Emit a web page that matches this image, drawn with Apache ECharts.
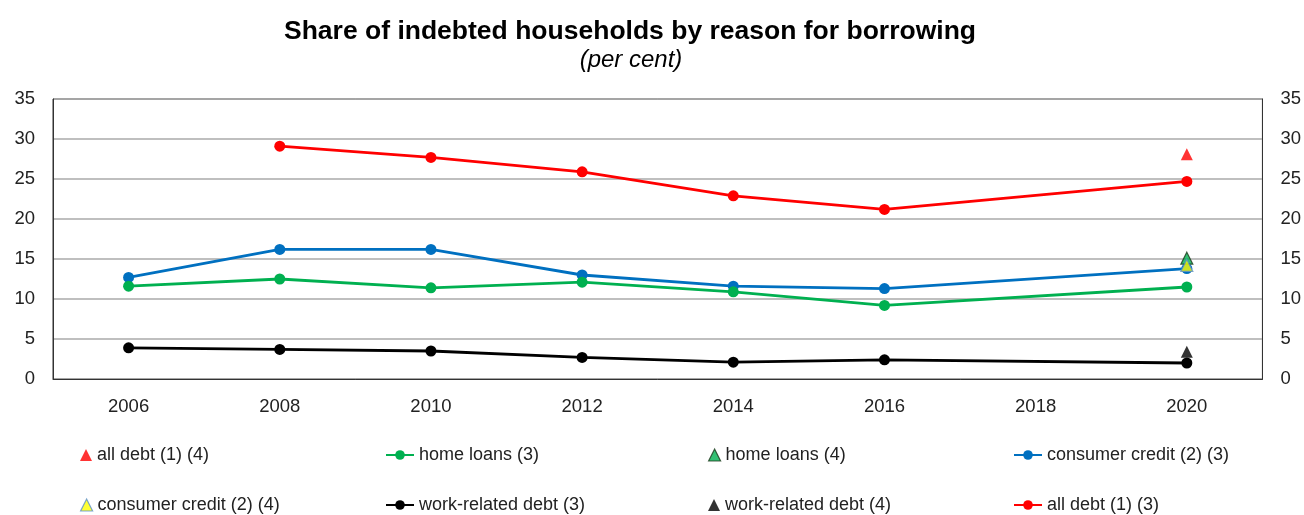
<!DOCTYPE html>
<html>
<head>
<meta charset="utf-8">
<script src="https://cdn.jsdelivr.net/npm/echarts@6/dist/echarts.min.js"></script>
<style>
html,body{margin:0;padding:0;background:#fff;}
#c{width:1304px;height:515px;}
</style>
</head>
<body>
<div id="c"></div>
<script>
var years = [2006, 2008, 2010, 2012, 2014, 2016, 2020];
var allDebt3 = [null, 29.1, 27.7, 25.9, 22.9, 21.2, 24.7];
var homeLoans3 = [11.6, 12.5, 11.4, 12.1, 10.9, 9.2, 11.5];
var consumerCredit3 = [12.7, 16.2, 16.2, 13.0, 11.6, 11.3, 13.8];
var workDebt3 = [3.9, 3.7, 3.5, 2.7, 2.1, 2.4, 2.0];
var year4 = 2020;
var allDebt4 = 28.1;
var homeLoans4 = 15.1;
var consumerCredit4 = 14.2;
var workDebt4 = 3.4;
var yTicks = [0, 5, 10, 15, 20, 25, 30, 35];

function pairs(vals) {
  var out = [];
  for (var i = 0; i < years.length; i++) {
    if (vals[i] !== null) out.push([years[i], vals[i]]);
  }
  return out;
}

var FONT = 'Liberation Sans, Arial, sans-serif';
var chart = echarts.init(document.getElementById('c'));

function lineSeries(name, vals, color) {
  return {
    name: name, type: 'line', data: pairs(vals),
    symbol: 'circle', symbolSize: 11,
    lineStyle: {color: color, width: 2.8},
    itemStyle: {color: color},
    z: 2
  };
}
function triSeries(name, val, color, border, z) {
  return {
    name: name, type: 'scatter', data: [[year4, val]],
    symbol: 'triangle', symbolSize: 12,
    itemStyle: {color: color, borderColor: border || color, borderWidth: border ? 1.2 : 0},
    z: z
  };
}

function leg(left, top, item, w) {
  return {
    left: left, top: top, data: [item], selectedMode: false, padding: 0,
    itemWidth: w, itemHeight: 12,
    textStyle: {fontFamily: FONT, fontSize: 18, color: '#222'}
  };
}

chart.setOption({
  animation: false,
  graphic: [
    {type: 'text', x: 630, y: 18, style: {text: 'Share of indebted households by reason for borrowing', font: 'bold 26.5px ' + FONT, fill: '#000', align: 'center', verticalAlign: 'top'}},
    {type: 'text', x: 631, y: 48, style: {text: '(per cent)', font: 'italic 24px ' + FONT, fill: '#000', align: 'center', verticalAlign: 'top'}}
  ],
  grid: {left: 53, right: 38, top: 99, bottom: 136, show: true, borderColor: '#333', borderWidth: 1, backgroundColor: 'transparent'},
  xAxis: {
    type: 'value', min: 2005, max: 2021, interval: 1,
    axisLine: {show: true, lineStyle: {color: '#333'}},
    axisTick: {show: false},
    splitLine: {show: false},
    axisLabel: {
      margin: 18, fontFamily: FONT, fontSize: 18.5, color: '#222',
      formatter: function (v) { return (v % 2 === 0 && v >= 2006 && v <= 2020) ? String(v) : ''; }
    }
  },
  yAxis: [
    {
      type: 'value', min: yTicks[0], max: yTicks[yTicks.length - 1], interval: 5, position: 'left',
      axisLine: {show: true, lineStyle: {color: '#333'}},
      axisTick: {show: false},
      splitLine: {show: true, lineStyle: {color: '#aaa', width: 1.5}},
      axisLabel: {margin: 18, fontFamily: FONT, fontSize: 18.5, color: '#222'}
    },
    {
      type: 'value', min: yTicks[0], max: yTicks[yTicks.length - 1], interval: 5, position: 'right',
      axisLine: {show: true, lineStyle: {color: '#333'}},
      axisTick: {show: false},
      splitLine: {show: false},
      axisLabel: {margin: 18, fontFamily: FONT, fontSize: 18.5, color: '#222'}
    }
  ],
  legend: [
    leg(80, 446, {name: 'all debt (1) (4)', icon: 'triangle', itemStyle: {color: '#ff0000', borderWidth: 0}}, 12),
    leg(80, 496, {name: 'consumer credit (2) (4)', icon: 'triangle', itemStyle: {color: '#ffff00', borderColor: '#5a8fc8', borderWidth: 1.2}}, 12),
    leg(385, 446, {name: 'home loans (3)'}, 28),
    leg(385, 496, {name: 'work-related debt (3)'}, 28),
    leg(708, 446, {name: 'home loans (4)', icon: 'triangle', itemStyle: {color: '#00b050', borderColor: '#1a3a1a', borderWidth: 1.2}}, 12),
    leg(708, 496, {name: 'work-related debt (4)', icon: 'triangle', itemStyle: {color: '#000', borderWidth: 0}}, 12),
    leg(1013, 446, {name: 'consumer credit (2) (3)'}, 28),
    leg(1013, 496, {name: 'all debt (1) (3)'}, 28)
  ],
  series: [
    lineSeries('all debt (1) (3)', allDebt3, '#ff0000'),
    lineSeries('consumer credit (2) (3)', consumerCredit3, '#0070c0'),
    lineSeries('home loans (3)', homeLoans3, '#00b050'),
    lineSeries('work-related debt (3)', workDebt3, '#000000'),
    triSeries('all debt (1) (4)', allDebt4, '#ff0000', null, 5),
    triSeries('home loans (4)', homeLoans4, '#00b050', '#1a3a1a', 5),
    triSeries('consumer credit (2) (4)', consumerCredit4, '#ffff00', '#5a8fc8', 6),
    triSeries('work-related debt (4)', workDebt4, '#000000', null, 5)
  ]
});
</script>
</body>
</html>
